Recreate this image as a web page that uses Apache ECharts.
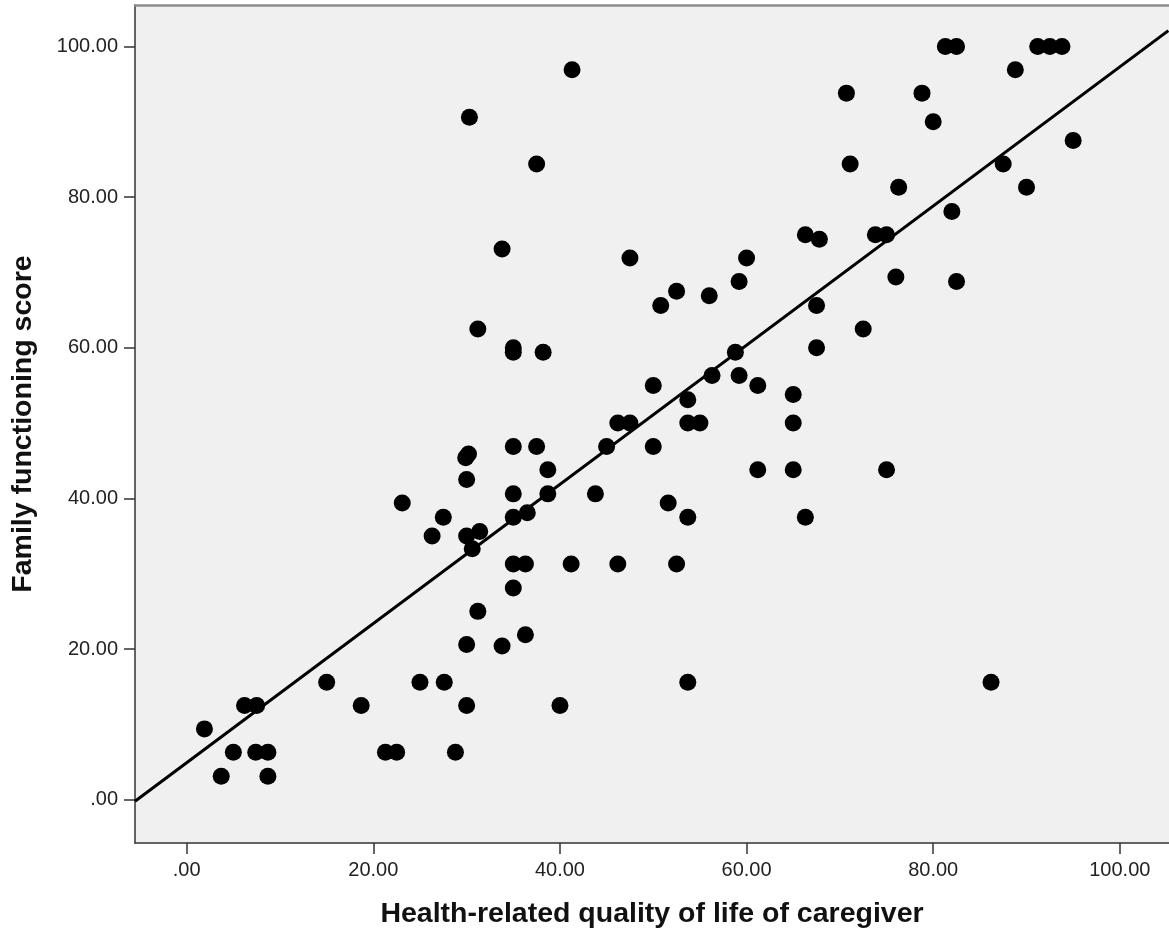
<!DOCTYPE html>
<html>
<head>
<meta charset="utf-8">
<script src="https://cdn.jsdelivr.net/npm/echarts@6/dist/echarts.min.js"></script>
<style>
html,body{margin:0;padding:0;background:#fff;}
#chart{width:1169px;height:938px;}
</style>
</head>
<body>
<div id="chart"></div>
<script>
// Data
var qolCaregiver = [81.3,82.5,91.2,92.5,93.8,41.3,88.8,70.7,78.8,30.3,80.0,95.0,37.5,71.1,87.5,76.3,90.0,82.0,66.3,67.8,73.8,75.0,33.8,47.5,60.0,76.0,59.2,82.5,52.5,56.0,50.8,67.5,31.2,72.5,35.0,35.0,38.2,58.8,67.5,56.3,59.2,50.0,61.2,53.7,65.0,46.2,47.5,53.7,55.0,65.0,35.0,37.5,45.0,50.0,30.2,29.9,38.7,61.2,65.0,75.0,30.0,35.0,38.7,43.8,23.1,51.6,27.5,35.0,36.5,53.7,66.3,26.3,30.0,31.4,30.6,35.0,36.3,41.2,46.2,52.5,35.0,31.2,36.3,30.0,33.8,15.0,25.0,27.6,53.7,86.2,18.7,30.0,40.0,6.2,7.5,1.9,5.0,7.4,8.7,21.3,22.5,28.8,3.7,8.7];
var familyFunctioning = [100,100,100,100,100,96.9,96.9,93.8,93.8,90.6,90.0,87.5,84.4,84.4,84.4,81.3,81.3,78.1,75.0,74.4,75.0,75.0,73.1,71.9,71.9,69.4,68.8,68.8,67.5,66.9,65.6,65.6,62.5,62.5,60.0,59.4,59.4,59.4,60.0,56.3,56.3,55.0,55.0,53.1,53.8,50.0,50.0,50.0,50.0,50.0,46.9,46.9,46.9,46.9,45.9,45.4,43.8,43.8,43.8,43.8,42.5,40.6,40.6,40.6,39.4,39.4,37.5,37.5,38.1,37.5,37.5,35.0,35.0,35.6,33.3,31.3,31.3,31.3,31.3,31.3,28.1,25.0,21.9,20.6,20.4,15.6,15.6,15.6,15.6,15.6,12.5,12.5,12.5,12.5,12.5,9.4,6.3,6.3,6.3,6.3,6.3,6.3,3.1,3.1];
// Fit line end points
var fitX = [-5.54, 105.2];
var fitY = [-0.2, 102.1];
var tickValues = [0, 20, 40, 60, 80, 100];
var xTitle = 'Health-related quality of life of caregiver';
var yTitle = 'Family functioning score';

var points = qolCaregiver.map(function(x, i){ return [x, familyFunctioning[i]]; });
var fitLine = fitX.map(function(x, i){ return [x, fitY[i]]; });

function fmt(v){ return v === 0 ? '.00' : v.toFixed(2); }

var FONT = '"Liberation Sans", Arial, sans-serif';
var chart = echarts.init(document.getElementById('chart'), null, {renderer:'canvas'});
chart.setOption({
  animation: false,
  backgroundColor: '#ffffff',
  grid: {left: 135, top: 5, right: 0, bottom: 95, show: true, backgroundColor: '#f0f0f0', borderWidth: 0},
  xAxis: [{
    type: 'value', min: -5.54, max: 105.27,
    name: xTitle, nameLocation: 'middle', nameGap: 57,
    nameTextStyle: {fontFamily: FONT, fontSize: 28.5, fontWeight: 'bold', color: '#111'},
    splitLine: {show: false},
    axisLine: {onZero: false, lineStyle: {color: '#333', width: 1.5}},
    axisTick: {customValues: tickValues, length: 11, lineStyle: {color: '#333', width: 1.5}},
    axisLabel: {customValues: tickValues, formatter: fmt, margin: 17, fontFamily: FONT, fontSize: 20, color: '#222'}
  }, {
    type: 'value', min: -5.54, max: 105.27, position: 'top',
    splitLine: {show: false},
    axisLine: {onZero: false, lineStyle: {color: '#8c8c8c', width: 2.5}},
    axisTick: {show: false}, axisLabel: {show: false}
  }],
  yAxis: {
    type: 'value', min: -5.75, max: 105.5,
    name: yTitle, nameLocation: 'middle', nameGap: 97,
    nameTextStyle: {fontFamily: FONT, fontSize: 28.5, fontWeight: 'bold', color: '#111'},
    splitLine: {show: false},
    axisLine: {onZero: false, lineStyle: {color: '#333', width: 1.5}},
    axisTick: {customValues: tickValues, length: 11, lineStyle: {color: '#333', width: 1.5}},
    axisLabel: {customValues: tickValues, formatter: fmt, margin: 17, fontFamily: FONT, fontSize: 20, color: '#222'}
  },
  series: [{
    type: 'scatter', data: points, symbol: 'circle', symbolSize: 17,
    itemStyle: {color: '#000', opacity: 1}, clip: true, silent: true
  }, {
    type: 'line', data: fitLine, symbol: 'none', clip: true, silent: true,
    lineStyle: {color: '#000', width: 3}
  }]
});
</script>
</body>
</html>
